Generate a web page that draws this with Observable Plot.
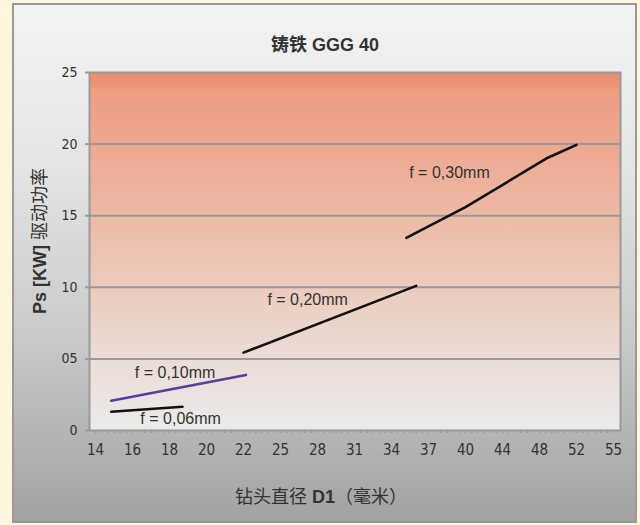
<!DOCTYPE html>
<html>
<head>
<meta charset="utf-8">
<script src="https://cdn.jsdelivr.net/npm/d3@7"></script>
<script src="https://cdn.jsdelivr.net/npm/@observablehq/plot@0.6"></script>
<style>
  html, body { margin: 0; padding: 0; background: #fff4dd; }
  #wrap { position: relative; width: 640px; height: 525px; overflow: hidden; }
  #box { position: absolute; left: 12px; top: 3px; width: 621px; height: 516px;
         border: 2px solid #999;
         background: linear-gradient(to bottom, #f3f3f3 0%, #e6e6e6 30%, #c9c9c9 65%, #a2a2a2 100%); }
  #chart { position: absolute; left: 0; top: 0; }
  .lbl { position: absolute; color: #333; white-space: nowrap;
         font-family: "Liberation Sans", "Noto Sans CJK SC", sans-serif; }
  #title { left: 325px; top: 43px; transform: translate(-50%, -50%); font-size: 18px; font-weight: bold; }
  #xlab { left: 321px; top: 495px; transform: translate(-50%, -50%); font-size: 18px; }
  #ylab { left: 38px; top: 241px; transform: translate(-50%, -50%) rotate(-90deg); font-size: 18px; }
  .cjk { font-family: "Noto Sans CJK SC", sans-serif; }
  b { font-family: "Liberation Sans", "Noto Sans CJK SC", sans-serif; }
  svg text { font-stretch: condensed; }
</style>
</head>
<body>
<div id="wrap">
  <div id="box"></div>
  <div id="chart"></div>
  <div class="lbl" id="title"><span class="cjk" style="font-weight:bold">铸铁</span> <b>GGG 40</b></div>
  <div class="lbl" id="xlab"><span class="cjk">钻头直径</span> <b>D1</b><span class="cjk">（毫米）</span></div>
  <div class="lbl" id="ylab"><b>Ps [KW]</b> <span class="cjk">驱动功率</span></div>
</div>
<script>
// ---- data ----
const xTicks = [14, 16, 18, 20, 22, 25, 28, 31, 34, 37, 40, 44, 48, 52, 55];
const yTicks = [0, 5, 10, 15, 20, 25];

const seriesNames = ["f = 0,06mm", "f = 0,10mm", "f = 0,20mm", "f = 0,30mm"];
const f006D = [14.85, 18.7];
const f006P = [1.31, 1.66];
const f010D = [14.85, 22.2];
const f010P = [2.08, 3.88];
const f020D = [22, 36];
const f020P = [5.44, 10.1];
const f030D = [35.2, 40, 48.9, 52];
const f030P = [13.45, 15.6, 19.05, 19.95];
const seriesColors = ["#111111", "#5a3d9e", "#111111", "#111111"];

const labelD = [18.6, 18.3, 27.2, 38.7];
const labelP = [0.78, 4.0, 9.12, 18.0];

// ---- build table ----
const allD = [f006D, f010D, f020D, f030D];
const allP = [f006P, f010P, f020P, f030P];
const rows = [];
seriesNames.forEach((name, i) => {
  allD[i].forEach((d, j) => rows.push({f: name, d, p: allP[i][j], c: seriesColors[i]}));
});
const labels = seriesNames.map((name, i) => ({text: name, d: labelD[i], p: labelP[i]}));

// minor ticks: 6 subdivisions per category interval
const minorTicks = [];
for (let i = 0; i < xTicks.length - 1; i++) {
  for (let k = 0; k < 6; k++) minorTicks.push(xTicks[i] + (xTicks[i + 1] - xTicks[i]) * k / 6);
}
minorTicks.push(xTicks[xTicks.length - 1]);

const narrow = "'Liberation Sans Narrow', 'DejaVu Sans Condensed', 'DejaVu Sans', sans-serif";

const svg = Plot.plot({
  width: 640,
  height: 525,
  marginLeft: 89,
  marginRight: 20,
  marginTop: 72,
  marginBottom: 95,
  style: {background: "transparent", overflow: "visible"},
  x: {type: "linear", domain: xTicks, insetLeft: 6, insetRight: 7},
  y: {type: "linear", domain: [0, 25]},
  marks: [
    Plot.frame({fill: "url(#plotBg)"}),
    Plot.ruleY([5, 10, 15, 20], {stroke: "#999", strokeWidth: 2}),
    Plot.frame({stroke: "#999", strokeWidth: 2}),
    Plot.axisY({ticks: yTicks, tickFormat: d => d === 5 ? "05" : String(d), tickSize: 4, tickPadding: 8,
                stroke: "#999", strokeWidth: 2, fill: "#333", fontSize: 14, fontFamily: narrow, label: null}),
    Plot.axisX({ticks: minorTicks, tickSize: 3, text: null, stroke: "#999", strokeWidth: 1.5, label: null}),
    Plot.axisX({ticks: xTicks, tickFormat: d => String(d), tickSize: 0, tickPadding: 14, fill: "#333",
                fontSize: 15, fontFamily: narrow, label: null}),
    Plot.line(rows, {x: "d", y: "p", z: "f", stroke: "c", strokeWidth: 2.6}),
    Plot.text(labels, {x: "d", y: "p", text: "text", fill: "#333", fontSize: 16,
                       fontFamily: "'Liberation Sans', Arial, sans-serif"})
  ]
});

const defs = d3.select(svg).insert("defs", ":first-child");
const g = defs.append("linearGradient").attr("id", "plotBg")
  .attr("x1", 0).attr("y1", 0).attr("x2", 0).attr("y2", 1);
[["0%", "#ea8d72"], ["4%", "#ec9479"], ["5%", "#ef9d83"], ["20%", "#eea890"], ["40%", "#edbaa6"],
 ["60%", "#eccbbd"], ["80%", "#ebdcd6"], ["100%", "#ebebeb"]]
  .forEach(([o, c]) => g.append("stop").attr("offset", o).attr("stop-color", c));

document.getElementById("chart").appendChild(svg);
</script>
</body>
</html>
